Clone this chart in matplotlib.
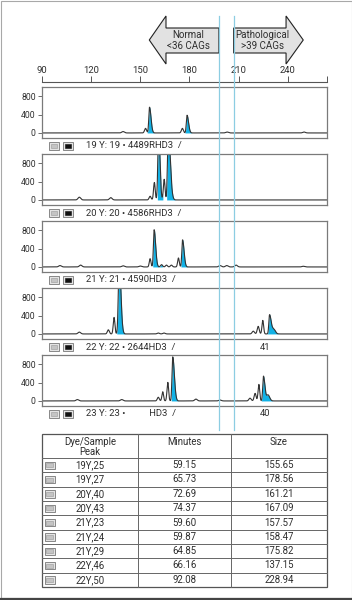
import numpy as np
import matplotlib
matplotlib.use("Agg")
import matplotlib.pyplot as plt
from matplotlib.patches import Polygon, Rectangle
from matplotlib.transforms import blended_transform_factory

plt.rcParams["font.family"] = ["Roboto", "DejaVu Sans"]

W, H = 352, 600

# fragment size axis (bp)
SIZE_TICKS = [90, 120, 150, 180, 210, 240]
SIZE_MIN, SIZE_MAX = 90, 264
NORMAL_LIMIT = 198
PATHO_LIMIT = 207

PANEL_LABELS = [
    "19 Y: 19 \u2022 4489RHD3",
    "20 Y: 20 \u2022 4586RHD3",
    "21 Y: 21 \u2022 4590HD3",
    "22 Y: 22 \u2022 2644HD3",
    "23 Y: 23 \u2022 \u2007\u2007\u2007\u2007HD3",
]
PANEL_SIDE = ["", "", "", "41", "40"]

# peaks: (size, height, rise width, tail width)
PEAKS_19 = [(139.5, 30, 0.8, 0.8), (153.2, 100, 0.6, 0.6), (155.65, 560, 0.45, 0.9),
            (175.7, 100, 0.6, 0.6), (178.56, 385, 0.45, 0.9), (203.0, 20, 0.8, 0.8),
            (250.0, 20, 0.8, 0.8)]
PEAKS_20 = [(112.8, 60, 0.8, 0.8), (132.0, 50, 0.8, 0.8), (156.0, 80, 0.6, 0.6),
            (158.6, 380, 0.5, 0.5), (161.21, 1500, 0.5, 0.8), (164.6, 450, 0.5, 0.5),
            (167.09, 1500, 0.5, 1.2)]
PEAKS_21 = [(101.0, 30, 0.8, 0.8), (113.6, 40, 0.8, 0.8), (139.5, 25, 0.8, 0.8),
            (150.0, 20, 0.8, 0.8), (156.0, 180, 0.5, 0.5), (158.47, 810, 0.45, 0.9),
            (163.0, 50, 0.6, 0.6), (166.0, 40, 0.6, 0.6), (169.0, 40, 0.6, 0.6),
            (173.3, 195, 0.5, 0.5), (175.82, 590, 0.45, 0.9), (198.7, 30, 0.8, 0.8),
            (202.8, 30, 0.8, 0.8), (208.5, 40, 0.8, 0.8), (249.5, 15, 0.8, 0.8)]
PEAKS_22 = [(112.8, 40, 0.8, 0.8), (130.5, 90, 0.6, 0.6), (134.0, 360, 0.5, 0.5),
            (137.15, 1600, 0.55, 1.0), (161.0, 20, 0.7, 0.7), (164.5, 20, 0.7, 0.7),
            (219.0, 60, 0.7, 0.7), (222.0, 165, 0.6, 0.6), (224.8, 295, 0.5, 0.5),
            (228.94, 420, 0.45, 1.0), (231.5, 100, 0.8, 1.0)]
PEAKS_23 = [(111.6, 30, 0.8, 0.8), (138.7, 30, 0.8, 0.8), (161.0, 80, 0.6, 0.6),
            (163.7, 200, 0.5, 0.5), (166.8, 404, 0.5, 0.5), (169.8, 960, 0.45, 1.0),
            (184.0, 40, 0.8, 0.8), (198.7, 20, 0.8, 0.8), (217.0, 60, 0.7, 0.7),
            (220.1, 165, 0.6, 0.6), (222.4, 360, 0.5, 0.5), (225.2, 540, 0.45, 0.9),
            (228.0, 130, 0.8, 1.0)]
PANEL_PEAKS = [PEAKS_19, PEAKS_20, PEAKS_21, PEAKS_22, PEAKS_23]

# sized (blue) areas under the called peaks
PANEL_FILLS = [
    [(154.2, 160.0), (177.2, 182.0)],
    [(160.4, 163.8), (166.1, 174.3)],
    [(157.6, 163.5), (174.8, 181.0)],
    [(135.6, 142.1), (226.8, 235.0)],
    [(168.9, 176.0), (223.8, 235.0)],
]

TABLE_HEADER = ["Dye/Sample\nPeak", "Minutes", "Size"]
TABLE_PEAK = ["19Y,25", "19Y,27", "20Y,40", "20Y,43", "21Y,23",
              "21Y,24", "21Y,29", "22Y,46", "22Y,50"]
TABLE_MIN = ["59.15", "65.73", "72.69", "74.37", "59.60",
             "59.87", "64.85", "66.16", "92.08"]
TABLE_SIZE = ["155.65", "178.56", "161.21", "167.09", "157.57",
              "158.47", "175.82", "137.15", "228.94"]

FILL = "#12b2e6"
LINE = "#333333"
MARK = "#8ccde2"
TXT = "#2e2e2e"


def px_axes(fig, left, top, width, height, **kw):
    return fig.add_axes([left / W, 1 - (top + height) / H, width / W, height / H], **kw)


def trace(x, peaks):
    y = np.zeros_like(x)
    for c, h, wl, wr in peaks:
        s = np.where(x < c, wl, wr)
        y += h * np.exp(-0.5 * ((x - c) / s) ** 2)
    return y


def plot_panel(ax, peaks, fills):
    x = np.linspace(SIZE_MIN, SIZE_MAX, 5000)
    y = trace(x, peaks)
    for lo, hi in fills:
        m = (x >= lo) & (x <= hi)
        ax.fill_between(x[m], 0, y[m], color=FILL, lw=0)
    ax.plot(x, y, color=LINE, lw=0.8)
    ax.set_xlim(SIZE_MIN, SIZE_MAX)
    ax.set_ylim(-110, 1000)
    ax.set_xticks([])
    ax.set_yticks([0, 400, 800])
    ax.tick_params(axis="y", length=3, width=0.6, color="#555555",
                   labelsize=6.2, labelcolor=TXT, pad=1.5)
    for s in ax.spines.values():
        s.set_edgecolor("#7a7a7a")
        s.set_linewidth(0.9)


def icon(ov, x, y, dark=False):
    ov.add_patch(Rectangle((x, y), 10.5, 7.5, facecolor="#e4e4e4",
                           edgecolor="#777777", lw=0.6))
    ov.add_patch(Rectangle((x + 1.8, y + 1.6), 6.9, 4.3,
                           facecolor="#111111" if dark else "#c4c4c4",
                           edgecolor="#999999" if not dark else "#111111", lw=0.4))


def main():
    fig = plt.figure(figsize=(W / 100, H / 100), dpi=100)

    top = px_axes(fig, 42, 77.5, 285, 4)
    top.patch.set_visible(False)
    top.set_xlim(SIZE_MIN, SIZE_MAX)
    top.set_ylim(0, 1)
    for k in ("left", "right", "top"):
        top.spines[k].set_visible(False)
    top.spines["bottom"].set_color("#555555")
    top.spines["bottom"].set_linewidth(0.8)
    top.set_yticks([])
    top.set_xticks(SIZE_TICKS)
    top.set_xticks([SIZE_MAX], minor=True)
    top.tick_params(axis="x", which="both", direction="in", length=4, width=0.7,
                    color="#555555", bottom=True, top=False, labelbottom=False,
                    labeltop=True, labelsize=6.8, labelcolor=TXT, pad=1.5)

    tops = [87, 154, 221, 288, 355]
    for t, peaks, fills in zip(tops, PANEL_PEAKS, PANEL_FILLS):
        ax = px_axes(fig, 42, t, 285, 51)
        plot_panel(ax, peaks, fills)

    ov = fig.add_axes([0, 0, 1, 1], zorder=10)
    ov.patch.set_visible(False)
    ov.set_xlim(0, W)
    ov.set_ylim(H, 0)
    ov.axis("off")
    bt = blended_transform_factory(top.transData, ov.transData)

    # arrows
    left_arrow = [(155.5, 40), (165.7, 16), (165.7, 28), (NORMAL_LIMIT, 28),
                  (NORMAL_LIMIT, 53), (165.7, 53), (165.7, 64)]
    right_arrow = [(249.5, 40), (239, 16), (239, 28), (PATHO_LIMIT, 28),
                   (PATHO_LIMIT, 53), (239, 53), (239, 64)]
    for verts in (left_arrow, right_arrow):
        ov.add_patch(Polygon(verts, closed=True, transform=bt, facecolor="#e2e2e2",
                             edgecolor="#222222", lw=0.8, zorder=2))
    ov.text(179.5, 40.5, "Normal\n<36 CAGs", transform=bt, ha="center", va="center",
            fontsize=7, color=TXT, linespacing=1.2, zorder=3)
    ov.text(224.5, 40.5, "Pathological\n>39 CAGs", transform=bt, ha="center",
            va="center", fontsize=7, color=TXT, linespacing=1.2, zorder=3)

    for v in (NORMAL_LIMIT, PATHO_LIMIT):
        ov.plot([v, v], [16, 430], transform=bt, color=MARK, lw=0.9, zorder=5)

    # sample label rows
    for t, label, side in zip(tops, PANEL_LABELS, PANEL_SIDE):
        yl = t + 59
        icon(ov, 48.7, yl - 4)
        icon(ov, 62.7, yl - 4, dark=True)
        ov.text(86, yl, label + "  /", ha="left", va="center", fontsize=6.8, color=TXT)
        if side:
            ov.text(226, yl, side, transform=bt, ha="center", va="center",
                    fontsize=6.8, color=TXT)

    # table
    x0, x1 = 42, 327
    cols = [42, 138, 231, 327]
    centers = [90, 184.5, 279]
    y0, yh, y1 = 434, 458, 587
    rh = (y1 - yh) / len(TABLE_PEAK)
    ov.add_patch(Rectangle((x0, y0), x1 - x0, y1 - y0, facecolor="white",
                           edgecolor="#555555", lw=0.9, zorder=1))
    for c in cols[1:-1]:
        ov.plot([c, c], [y0, y1], color="#666666", lw=0.7)
    for i in range(len(TABLE_PEAK)):
        ov.plot([x0, x1], [yh + i * rh, yh + i * rh], color="#666666", lw=0.7)
    for cx, h in zip(centers, TABLE_HEADER):
        ov.text(cx, y0 + 3, h, ha="center", va="top", fontsize=6.9, color=TXT,
                linespacing=1.05)
    for i, row in enumerate(zip(TABLE_PEAK, TABLE_MIN, TABLE_SIZE)):
        yc = yh + (i + 0.5) * rh
        icon(ov, 44.5, yc - 3.6)
        for cx, s in zip(centers, row):
            ov.text(cx, yc, s, ha="center", va="center", fontsize=6.9, color=TXT)

    # picture frame
    ov.add_patch(Rectangle((0.5, 0.5), W - 1, 597.5, facecolor="none",
                           edgecolor="#a8a8a8", lw=0.8))
    ov.plot([0, W], [598.8, 598.8], color="#444444", lw=1.6)

    fig.savefig("out.png", dpi=100)


if __name__ == "__main__":
    main()
